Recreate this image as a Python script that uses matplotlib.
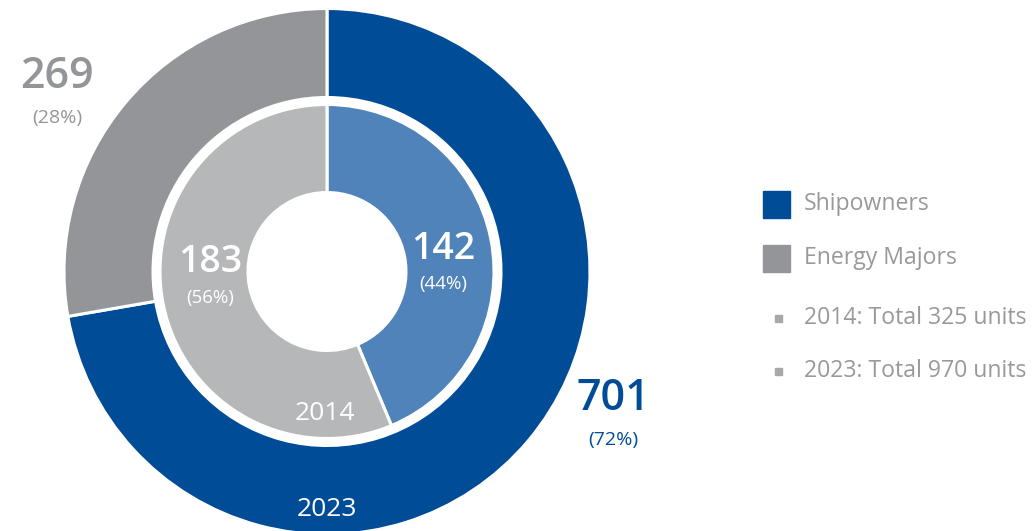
import matplotlib.pyplot as plt

plt.rcParams['font.family'] = ['Open Sans', 'DejaVu Sans']

# unit counts by owner type
groups = ["Shipowners", "Energy Majors"]
units_2014 = [142, 183]
units_2023 = [701, 269]
years = ["2014", "2023"]

outer_colors = ["#004c97", "#939598"]
inner_colors = ["#4f83b9", "#b6b7b9"]
text_gray = "#98999b"

W, H = 1036, 531
fig = plt.figure(figsize=(W / 100, H / 100), dpi=100)
ax = fig.add_axes([0, 0, 1, 1])

cx, cy = 327, H - 271.5
wp = dict(edgecolor="white", linewidth=2.2)

ax.pie(units_2023, colors=outer_colors, startangle=90, counterclock=False,
       radius=263, center=(cx, cy), wedgeprops=dict(width=89, **wp))
ax.pie(units_2014, colors=inner_colors, startangle=90, counterclock=False,
       radius=167, center=(cx, cy), wedgeprops=dict(width=88, **wp))

ax.set_xlim(0, W)
ax.set_ylim(0, H)
ax.set_aspect("equal")
ax.axis("off")


def pct(vals, i):
    return round(100 * vals[i] / sum(vals))


def value_label(x, y, vals, i, color, size, psize, gap):
    ax.text(x, H - y, f"{vals[i]}", color=color, fontsize=size,
            fontweight="semibold", ha="center", va="center")
    ax.text(x, H - y - gap, f"({pct(vals, i)}%)", color=color,
            fontsize=psize, ha="center", va="center")


# outer ring labels sit outside the donut
value_label(57, 77, units_2023, 1, "#939598", 31, 14, 41)
value_label(613, 398, units_2023, 0, "#004c97", 31, 14, 42)
# inner ring labels sit on the wedges
value_label(210, 262, units_2014, 1, "white", 27, 13.5, 36)
value_label(443, 249, units_2014, 0, "white", 27, 13.5, 35)

ax.text(325, H - 414, years[0], color="white", fontsize=19,
        ha="center", va="center")
ax.text(327, H - 510, years[1], color="white", fontsize=19,
        ha="center", va="center")

# legend
for k, (name, col) in enumerate(zip(groups, outer_colors)):
    y = 204 + 54 * k
    ax.add_patch(plt.Rectangle((763, H - y - 13.5), 27, 27, color=col))
    ax.text(804, H - y, name, color=text_gray, fontsize=16.6, va="center")

totals = [(years[0], sum(units_2014)), (years[1], sum(units_2023))]
for k, (yr, tot) in enumerate(totals):
    y = 318 + 53 * k
    ax.add_patch(plt.Rectangle((775, H - y - 3.5), 7, 7, color="#a7a8aa"))
    ax.text(804, H - y, f"{yr}: Total {tot} units", color=text_gray,
            fontsize=16.6, va="center")

fig.savefig("out.png", dpi=100)
